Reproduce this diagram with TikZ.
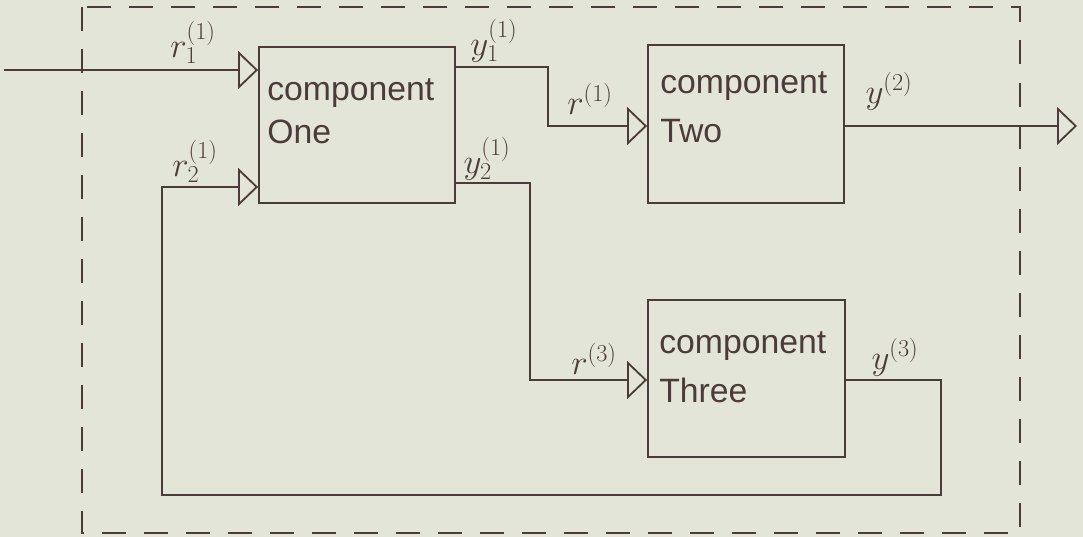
\documentclass[tikz,border=0pt]{standalone}
\usepackage{fontspec}
\setmainfont{Liberation Sans}
\usetikzlibrary{arrows.meta}
\definecolor{paper}{HTML}{E4E5D9}
\definecolor{ink}{HTML}{4B3B3B}
\tikzset{
  wire/.style={draw=ink, line width=1.3pt},
  tri/.style={wire, -{Triangle[open, length=0.5cm, width=0.95cm, line width=1.3pt]}},
  frame/.style={draw=ink, line width=1.5pt, dash pattern=on 0.6cm off 0.45cm},
  comp/.style={draw=ink, line width=1.3pt, inner sep=0pt},
  ctext/.style={ink, anchor=north west, inner sep=0pt, align=left, font=\fontsize{24}{31}\selectfont},
  ctextwide/.style={ctext, font=\fontsize{24}{35}\selectfont},
  lbl/.style={ink, inner sep=0pt, font=\fontsize{23}{27}\selectfont},
}
\begin{document}
\begin{tikzpicture}[x=0.025cm, y=-0.025cm]
  \fill[paper] (0,0) rectangle (1083,537);
  \useasboundingbox (0,0) rectangle (1083,537);
  % system boundary
  \draw[frame] (82,7) rectangle (1020,533);
  % components
  \node[comp, minimum width=4.9cm, minimum height=3.9cm] (c1) at (357,125) {};
  \node[comp, minimum width=4.9cm, minimum height=3.95cm] (c2) at (746,124) {};
  \node[comp, minimum width=4.925cm, minimum height=3.925cm] (c3) at (746.5,378.5) {};
  \node[ctext] (t1) at (267,78) {component\\One};
  \node[ctextwide] (t2) at (660,71) {component\\Two};
  \node[ctextwide] (t3) at (659,331) {component\\Three};
  % coordinates of bends
  \coordinate (in1) at (4,70);
  \coordinate (y1a) at (548,67);
  \coordinate (y1b) at (548,126);
  \coordinate (y2a) at (530,183);
  \coordinate (y2b) at (530,380);
  \coordinate (y3a) at (941,380);
  \coordinate (y3b) at (941,495);
  \coordinate (fbl) at (162,495);
  \coordinate (fbu) at (162,187);
  \coordinate (out) at (1077,126);
  % connectors
  \draw[tri] (in1) -- (c1.west |- in1);
  \draw[tri] (c1.east |- y1a) -- (y1a) -- (y1b) -- (c2.west |- y1b);
  \draw[tri] (c1.east |- y2a) -- (y2a) -- (y2b) -- (c3.west |- y2b);
  \draw[tri] (c2.east |- out) -- (out);
  \draw[tri] (c3.east |- y3a) -- (y3a) -- (y3b) -- (fbl) -- (fbu) -- (c1.west |- fbu);
  % labels
  \node[lbl] (l1) at (193,42) {$r_1^{(1)}$};
  \node[lbl] (l2) at (195,161) {$r_2^{(1)}$};
  \node[lbl] (l3) at (494,41) {$y_1^{(1)}$};
  \node[lbl] (l4) at (487,159) {$y_2^{(1)}$};
  \node[lbl] (l5) at (590,99) {$r^{(1)}$};
  \node[lbl] (l6) at (889,91) {$y^{(2)}$};
  \node[lbl] (l7) at (594,359) {$r^{(3)}$};
  \node[lbl] (l8) at (895,357) {$y^{(3)}$};
\end{tikzpicture}
\end{document}
